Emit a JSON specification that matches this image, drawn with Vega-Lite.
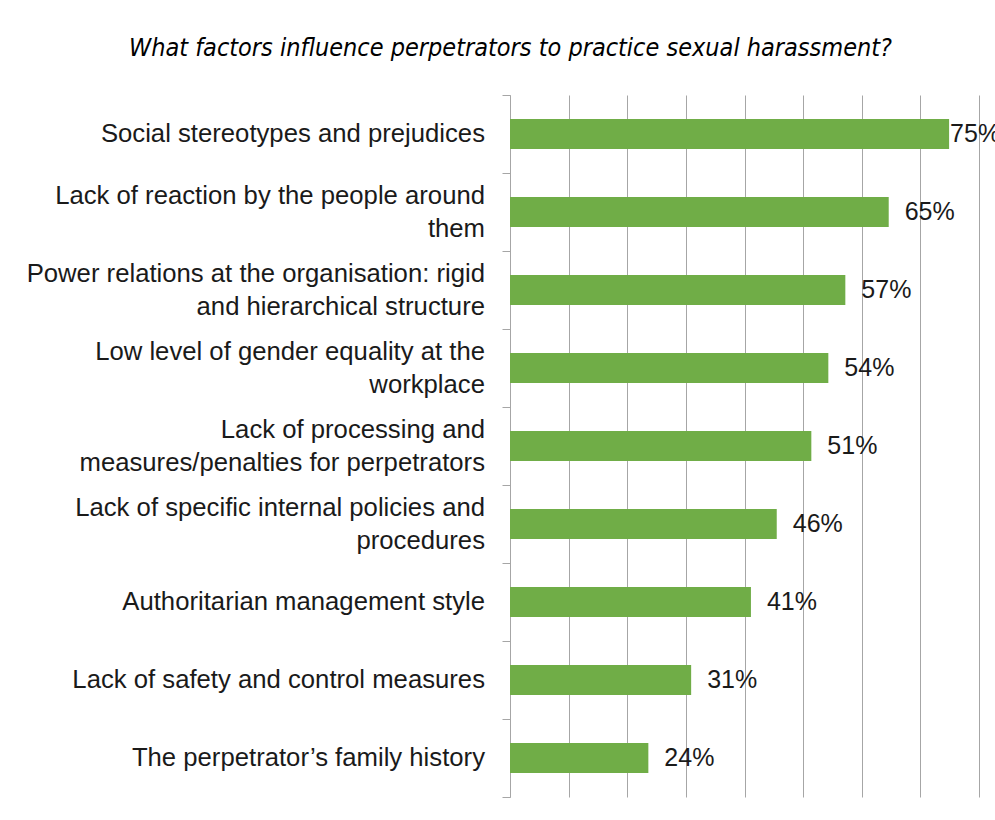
{
  "$schema": "https://vega.github.io/schema/vega-lite/v6.json",
  "width": 469,
  "height": 702,
  "autosize": {"type": "none"},
  "padding": {"left": 510, "top": 95, "right": 16, "bottom": 23},
  "background": "white",
  "config": {
    "view": {"stroke": null},
    "font": "Liberation Sans"
  },
  "title": {
    "text": "What factors influence perpetrators to practice sexual harassment?",
    "font": "DejaVu Sans Condensed",
    "fontStyle": "italic",
    "fontWeight": "normal",
    "fontSize": 25,
    "color": "#000000",
    "anchor": "middle",
    "dx": -234,
    "offset": 34
  },
  "data": {
    "values": [
      {"factor": "Social stereotypes and prejudices", "value": 0.749},
      {"factor": "Lack of reaction by the people around|them", "value": 0.646},
      {"factor": "Power relations at the organisation: rigid|and hierarchical structure", "value": 0.572},
      {"factor": "Low level of gender equality at the|workplace", "value": 0.543},
      {"factor": "Lack of processing and|measures/penalties for perpetrators", "value": 0.514},
      {"factor": "Lack of specific internal policies and|procedures", "value": 0.455},
      {"factor": "Authoritarian management style", "value": 0.411},
      {"factor": "Lack of safety and control measures", "value": 0.309},
      {"factor": "The perpetrator’s family history", "value": 0.236}
    ]
  },
  "encoding": {
    "y": {
      "field": "factor",
      "type": "nominal",
      "sort": null,
      "scale": {"paddingInner": 0, "paddingOuter": 0},
      "axis": {
        "title": null,
        "labels": false,
        "tickBand": "extent",
        "tickSize": 8,
        "tickColor": "#a6a6a6",
        "domainColor": "#a6a6a6",
        "grid": false
      }
    }
  },
  "layer": [
    {
      "mark": {"type": "bar", "color": "#70ad47", "height": {"band": 0.385}},
      "encoding": {
        "x": {
          "field": "value",
          "type": "quantitative",
          "scale": {"domain": [0, 0.8], "nice": false},
          "axis": {
            "title": null,
            "labels": false,
            "ticks": false,
            "domain": false,
            "grid": true,
            "gridColor": "#a6a6a6",
            "gridWidth": 1,
            "values": [0, 0.1, 0.2, 0.3, 0.4, 0.5, 0.6, 0.7, 0.8]
          }
        }
      }
    },
    {
      "transform": [{"filter": "indexof(datum.factor, '|') < 0"}],
      "mark": {"type": "text", "align": "right", "baseline": "middle", "dx": -25, "fontSize": 25.7, "font": "Liberation Sans", "color": "#1a1a1a", "lineBreak": "|", "lineHeight": 33},
      "encoding": {
        "x": {"datum": 0, "type": "quantitative"},
        "text": {"field": "factor", "type": "nominal"}
      }
    },
    {
      "transform": [{"filter": "indexof(datum.factor, '|') >= 0"}],
      "mark": {"type": "text", "align": "right", "baseline": "middle", "dx": -25, "dy": -16.5, "fontSize": 25.7, "font": "Liberation Sans", "color": "#1a1a1a", "lineBreak": "|", "lineHeight": 33},
      "encoding": {
        "x": {"datum": 0, "type": "quantitative"},
        "text": {"field": "factor", "type": "nominal"}
      }
    },
    {
      "transform": [{"filter": "datum.value < 0.7"}],
      "mark": {"type": "text", "align": "left", "baseline": "middle", "dx": 16, "fontSize": 25, "font": "Liberation Sans", "color": "#1a1a1a"},
      "encoding": {
        "x": {"field": "value", "type": "quantitative"},
        "text": {"field": "value", "type": "quantitative", "format": ".0%"}
      }
    },
    {
      "transform": [{"filter": "datum.value >= 0.7"}],
      "mark": {"type": "text", "align": "left", "baseline": "middle", "dx": 1, "fontSize": 25, "font": "Liberation Sans", "color": "#1a1a1a"},
      "encoding": {
        "x": {"field": "value", "type": "quantitative"},
        "text": {"field": "value", "type": "quantitative", "format": ".0%"}
      }
    }
  ]
}
